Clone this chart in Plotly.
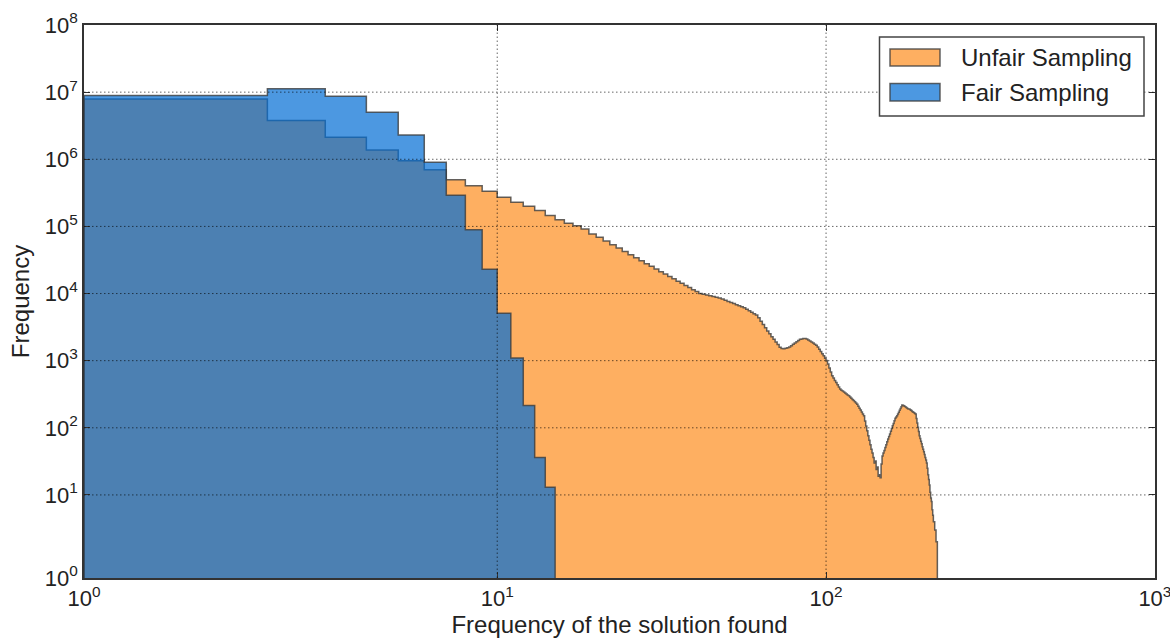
import math
import plotly.graph_objects as go

# ---- axis limits (reference labels the lower-left corner 10^0) ----
X_LEFT = 0.554
X_RIGHT = 1000
Y_BOTTOM = 0.579
Y_TOP = 1e8

# ---- Fair sampling histogram: bin = frequency k covers [k, k+1) ----
FAIR_FREQ = list(range(1, 15))
FAIR_COUNTS = [8.9e6, 1.12e7, 8.7e6, 5.0e6, 2.3e6, 9.0e5, 2.9e5, 8.9e4,
               2.3e4, 5.1e3, 1.1e3, 215, 36, 13]

# ---- Unfair sampling histogram ----
UNFAIR_FREQ = list(range(1, 218))
UNFAIR_COUNTS = [
    7900000, 3770000, 2130000, 1380000, 950000, 700000, 497000, 404000, 333000, 272000,
    229000, 200000, 172000, 145000, 126000, 111000, 102000, 91200, 77100, 69200,
    60700, 53500, 47500, 42400, 37900, 34100, 30800, 27900, 25400, 23200,
    21200, 19500, 17900, 16600, 15300, 14200, 13200, 12300, 11400, 10700,
    10000, 9800, 9520, 9250, 9010, 8770, 8550, 8260, 7940, 7640,
    7350, 7080, 6820, 6590, 6360, 6140, 5820, 5530, 5260, 5010,
    4770, 4350, 3880, 3450, 3080, 2760, 2510, 2280, 2080, 1900,
    1740, 1590, 1520, 1510, 1530, 1560, 1600, 1670, 1750, 1830,
    1910, 2000, 2080, 2110, 2140, 2140, 2110, 2040, 1970, 1900,
    1830, 1760, 1700, 1600, 1480, 1370, 1270, 1180, 1090, 1010,
    893, 778, 679, 594, 550, 508, 471, 437, 406, 377,
    364, 352, 340, 330, 319, 309, 299, 287, 275, 264,
    254, 244, 234, 225, 210, 196, 184, 172, 161, 151,
    126, 106, 90, 76, 65, 56, 48, 42, 36, 30,
    32, 24, 26, 19, 20, 18, 29, 38, 42, 46,
    51, 56, 62, 68, 74, 81, 89, 98, 107, 116,
    127, 139, 145, 151, 161, 171, 182, 194, 206, 218,
    216, 213, 209, 205, 201, 197, 193, 190, 190, 186,
    182, 178, 174, 171, 167, 163, 160, 137, 118, 102,
    88, 76, 69, 63, 58, 52, 48, 44, 40, 36,
    33, 30, 25, 20, 17, 14, 11, 9, 8, 6,
    5, 4, 4, 3, 3, 2, 2,
]

SERIES_NAMES = ["Unfair Sampling", "Fair Sampling"]

X_TICKS = [X_LEFT, 10, 100, 1000]
X_TICK_TEXT = ["10<sup>0</sup>", "10<sup>1</sup>", "10<sup>2</sup>", "10<sup>3</sup>"]
Y_TICKS = [Y_BOTTOM, 10, 1e2, 1e3, 1e4, 1e5, 1e6, 1e7, 1e8]
Y_TICK_TEXT = ["10<sup>%d</sup>" % i for i in range(9)]
X_GRID = [10, 100]
Y_GRID = [10, 1e2, 1e3, 1e4, 1e5, 1e6, 1e7]

FONT = "Liberation Sans, Arial, sans-serif"
EDGE = "rgba(60,60,60,0.8)"
ORANGE = "rgb(254,175,97)"
BLUE = "rgba(0,108,212,0.7)"
TXT = "#222222"

W, H = 1170, 641
ML, MR, MT, MB = 84, 15, 25, 63
PW, PH = W - ML - MR, H - MT - MB


def px(xp):
    return (xp - ML) / PW


def py(yp):
    return (H - MB - yp) / PH


def step_outline(freqs, counts):
    """Closed step polygon of a histogram; first bin starts at the axis edge."""
    floor = Y_BOTTOM * 0.3
    lefts = [X_LEFT] + list(freqs[1:])
    right = freqs[-1] + 1
    xs = [lefts[0]] + lefts + [right, right]
    ys = [floor] + list(counts) + [counts[-1], floor]
    return xs, ys


fig = go.Figure()

ux, uy = step_outline(UNFAIR_FREQ, UNFAIR_COUNTS)
fig.add_trace(go.Scatter(
    x=ux, y=uy, mode="lines", line=dict(shape="hv", color=EDGE, width=1.5),
    fill="toself", fillcolor=ORANGE, name=SERIES_NAMES[0], hoverinfo="skip"))

fx, fy = step_outline(FAIR_FREQ, FAIR_COUNTS)
fig.add_trace(go.Scatter(
    x=fx, y=fy, mode="lines", line=dict(shape="hv", color=EDGE, width=1.5),
    fill="toself", fillcolor=BLUE, name=SERIES_NAMES[1], hoverinfo="skip"))

GRID = dict(color="rgba(0,0,0,0.6)", width=1, dash="1.5px,2.5px")
for v in X_GRID:
    fig.add_shape(type="line", xref="x", yref="y domain", x0=v, x1=v, y0=0, y1=1,
                  line=GRID, layer="above")
for v in Y_GRID:
    fig.add_shape(type="line", xref="x domain", yref="y", x0=0, x1=1, y0=v, y1=v,
                  line=GRID, layer="above")

# ---- legend box drawn by hand (wide rectangular patches as in the reference) ----
fig.add_shape(type="rect", xref="paper", yref="paper",
              x0=px(879.5), x1=px(1144), y0=py(116), y1=py(37),
              fillcolor="white", line=dict(color="#444444", width=1.5), layer="above")
patch_rows = [(49, 66, ORANGE), (83.5, 101, BLUE)]
for (top, bot, col) in patch_rows:
    fig.add_shape(type="rect", xref="paper", yref="paper",
                  x0=px(890), x1=px(940), y0=py(bot), y1=py(top),
                  fillcolor=col, line=dict(color=EDGE, width=1.5), layer="above")
for name, yc in zip(SERIES_NAMES, [57.5, 92.5]):
    fig.add_annotation(xref="paper", yref="paper", x=px(959), y=py(yc),
                       xanchor="left", yanchor="middle", text=name, showarrow=False,
                       font=dict(family=FONT, size=24, color=TXT))

axis_common = dict(
    type="log", showgrid=False, zeroline=False, showline=True, mirror="ticks",
    linecolor="#333333", linewidth=1.5, ticks="inside", ticklen=6, tickcolor="#333333",
    tickfont=dict(family=FONT, size=22, color=TXT), layer="above traces",
    automargin=False, ticklabeloverflow="allow",
)

fig.update_layout(
    width=W, height=H,
    margin=dict(l=ML, r=MR, t=MT, b=MB),
    paper_bgcolor="white", plot_bgcolor="white",
    font=dict(family=FONT, size=22, color=TXT),
    xaxis=dict(axis_common,
               range=[math.log10(X_LEFT) - 1e-4, math.log10(X_RIGHT) + 3e-4],
               tickmode="array", tickvals=X_TICKS, ticktext=X_TICK_TEXT,
               title=dict(text="Frequency of the solution found", standoff=6,
                          font=dict(family=FONT, size=24, color=TXT))),
    yaxis=dict(axis_common,
               range=[math.log10(Y_BOTTOM) - 1e-4, math.log10(Y_TOP) + 3e-4],
               tickmode="array", tickvals=Y_TICKS, ticktext=Y_TICK_TEXT,
               title=dict(text="Frequency", standoff=8,
                          font=dict(family=FONT, size=24, color=TXT))),
    showlegend=False,
)

fig.write_html("out.html", config={"displayModeBar": False},
               post_script="document.body.style.margin='0';document.body.style.padding='0';")
